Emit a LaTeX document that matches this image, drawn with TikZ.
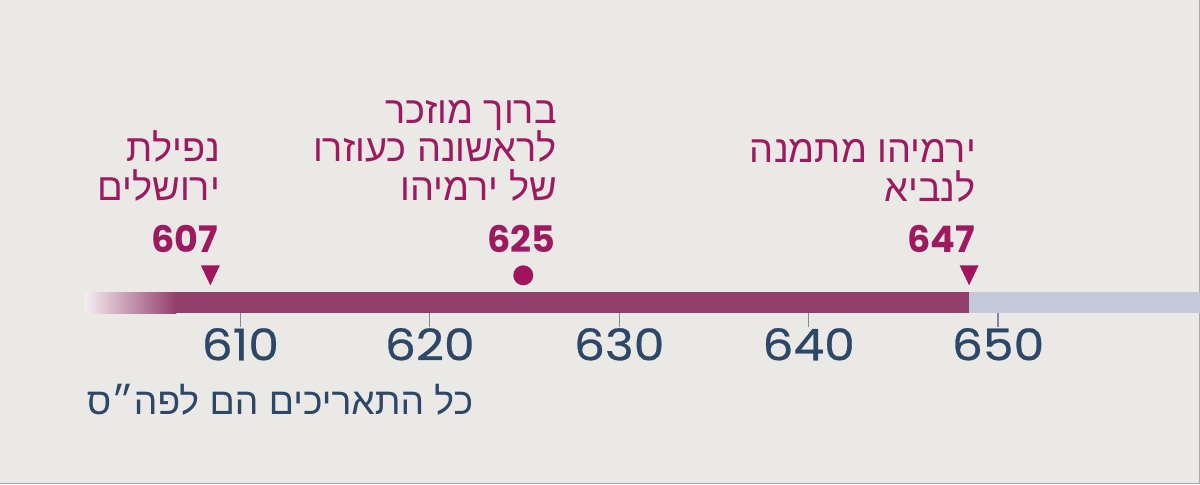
\documentclass[tikz,border=0pt]{standalone}
\usepackage{fontspec}
\TeXXeTstate=1
\newfontfamily\hebfont[Script=Hebrew]{Liberation Sans}
\newfontfamily\numfont{Poppins}
\newfontfamily\tickfont[FakeStretch=1.12, FakeBold=0.6]{Poppins}
\definecolor{paper}{HTML}{EAE9E6}
\definecolor{edgegrey}{HTML}{A9A9A7}
\definecolor{barplum}{HTML}{923F6B}
\definecolor{barblue}{HTML}{C3C8DA}
\definecolor{tickgrey}{HTML}{7E889C}
\definecolor{axisnavy}{HTML}{2D4768}
\definecolor{evtmagenta}{HTML}{9E1A60}
\definecolor{markmagenta}{HTML}{A0155E}
\begin{document}
\begin{tikzpicture}[x=0.025cm, y=-0.025cm]
		\tikzstyle{event}=[inner sep=0pt, align=right, text=evtmagenta, font=\hebfont\fontsize{27}{27.5}\selectfont]
		\tikzstyle{year}=[inner sep=0pt, text=evtmagenta, font=\numfont\bfseries\fontsize{26}{27}\selectfont]
		\tikzstyle{ticklabel}=[inner sep=0pt, text=axisnavy, font=\tickfont\fontsize{31}{32}\selectfont]
		\tikzstyle{note}=[inner sep=0pt, text=axisnavy, font=\hebfont\fontsize{26.5}{27}\selectfont]
		% paper
		\fill[paper] (0,0) rectangle (1200,484);
		\draw[edgegrey, line width=0.6pt] (1199,0) -- (1199,483) -- (0,483);
		% bar
		\shade[left color=white!90!barplum, right color=barplum] (85,292) rectangle (176,313);
		\fill[barplum] (175,292) rectangle (969,313);
		\fill[barblue] (969,292) rectangle (1200,313);
		\foreach \yr in {610,620,...,650} {
			\pgfmathsetmacro\tx{240+18.95*(\yr-610)}
			\draw[tickgrey, line width=1pt] (\tx,313) -- (\tx,327);
			\node[ticklabel, anchor=base] (t\yr) at (\tx,360) {\yr};
		}
		% markers
		\foreach \mx in {210,969}
			\fill[markmagenta] (\mx-9.5,265) -- (\mx+9.5,265) -- (\mx,285) -- cycle;
		\fill[markmagenta] (523,275) circle[radius=10];
		% events
		\node[year, anchor=base east](y607)at(218,252){607};
		\node[year, anchor=base east](y625)at(555,252){625};
		\node[year, anchor=base east](y647)at(975,252){647};
		\node[event, anchor=base east](e607)at(220,200){\beginR נפילת\endR\\\beginR ירושלים\endR};
		\node[event, anchor=base east](e625)at(557,200){\beginR ברוך מוזכר\endR\\\beginR לראשונה כעוזרו\endR\\\beginR של ירמיהו\endR};
		\node[event, anchor=base east](e647)at(976,201){\beginR ירמיהו מתמנה\endR\\\beginR לנביא\endR};
		\node[note, anchor=base east](note)at(473,414){\beginR כל התאריכים הם לפה״ס\endR};
\end{tikzpicture}
\end{document}
